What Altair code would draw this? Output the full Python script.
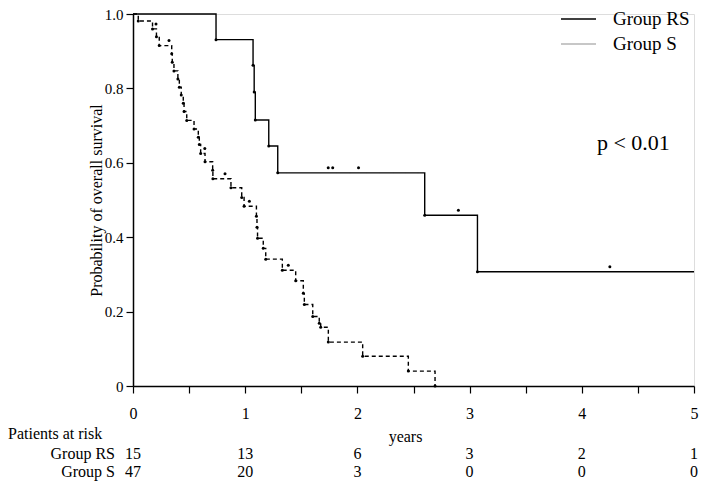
import altair as alt
import pandas as pd

# ---- Kaplan-Meier data ----
groups = ["Group RS", "Group S"]
legend_colors = ["black", "#b4b4b4"]

rs_time = [0.0, 0.74, 1.07, 1.08, 1.09, 1.21, 1.29, 2.60, 3.07, 5.0]
rs_surv = [1.0, 0.931, 0.862, 0.790, 0.715, 0.645, 0.573, 0.459, 0.307, 0.307]
rs_cens_time = [1.74, 1.78, 2.01, 2.90, 4.25]
rs_cens_surv = [0.573, 0.573, 0.573, 0.459, 0.307]

s_time = [0.0, 0.047, 0.174, 0.209, 0.234, 0.345, 0.350, 0.365, 0.400, 0.413,
          0.430, 0.448, 0.455, 0.479, 0.544, 0.582, 0.591, 0.603, 0.642, 0.710,
          0.712, 0.873, 0.969, 0.990, 1.100, 1.105, 1.110, 1.161, 1.183, 1.331,
          1.450, 1.518, 1.527, 1.602, 1.660, 1.673, 1.741, 2.047, 2.454, 2.692]
s_surv = [1.0, 0.981, 0.960, 0.939, 0.915, 0.893, 0.870, 0.847, 0.825, 0.803,
          0.782, 0.760, 0.738, 0.714, 0.691, 0.669, 0.649, 0.625, 0.603, 0.580,
          0.557, 0.533, 0.507, 0.483, 0.456, 0.427, 0.397, 0.370, 0.341, 0.311,
          0.283, 0.249, 0.219, 0.187, 0.169, 0.158, 0.118, 0.080, 0.040, 0.0]
s_cens_time = [0.205, 0.321, 0.640, 0.820, 1.037, 1.384]
s_cens_surv = [0.960, 0.915, 0.625, 0.557, 0.483, 0.311]

risk_times = [0, 1, 2, 3, 4, 5]
risk_rs = [15, 13, 6, 3, 2, 1]
risk_s = [47, 20, 3, 0, 0, 0]

p_text = "p < 0.01"
p_pos = (4.46, 0.653)

FONT = "Liberation Serif"

# ---- tables ----
lines = pd.concat([
    pd.DataFrame({"t": rs_time, "s": rs_surv, "g": groups[0]}),
    pd.DataFrame({"t": s_time, "s": s_surv, "g": groups[1]}),
])
events = pd.concat([
    pd.DataFrame({"t": rs_time[1:-1], "s": rs_surv[1:-1]}),
    pd.DataFrame({"t": s_time[1:], "s": s_surv[1:]}),
])
cens = pd.concat([
    pd.DataFrame({"t": rs_cens_time, "s": rs_cens_surv}),
    pd.DataFrame({"t": s_cens_time, "s": s_cens_surv}),
])
ptab = pd.DataFrame({"t": [p_pos[0]], "s": [p_pos[1]], "label": [p_text]})

x_scale = alt.Scale(domain=[0, 5], nice=False, zero=False)
y_scale = alt.Scale(domain=[0, 1], nice=False)

x_axis = alt.Axis(
    values=[0, 0.5, 1, 1.5, 2, 2.5, 3, 3.5, 4, 4.5, 5],
    labelExpr="datum.value % 1 == 0 ? format(datum.value, 'd') : ''",
    title="years", titleFont=FONT, titleFontSize=16, titleFontWeight="normal",
    titleColor="black", titleBaseline="middle", titleY=50, titleX=272,
    labelFont=FONT, labelFontSize=16, labelColor="black", labelPadding=12,
    tickSize=7, tickColor="black", domainColor="black", domainWidth=1.5,
    tickWidth=1.2, grid=False, labelFlush=False,
)
y_axis = alt.Axis(
    values=[0, 0.2, 0.4, 0.6, 0.8, 1.0],
    labelExpr="datum.value == 0 ? '0' : format(datum.value, '.1f')",
    title="Probability of overall survival", titleFont=FONT, titleFontSize=16,
    titleFontWeight="normal", titleColor="black", titleX=-37, titleBaseline="middle",
    labelFont=FONT, labelFontSize=15, labelColor="black", labelPadding=3,
    tickSize=7, tickColor="black", domainColor="black", domainWidth=1.5,
    tickWidth=1.2, grid=False, labelFlush=False,
)

X = alt.X("t:Q", scale=x_scale, axis=x_axis)
Y = alt.Y("s:Q", scale=y_scale, axis=y_axis)

line_layer = alt.Chart(lines).mark_line(
    interpolate="step-after", color="black", strokeWidth=1.4
).encode(
    x=X, y=Y, detail="g:N",
    strokeDash=alt.StrokeDash("g:N", scale=alt.Scale(domain=groups, range=[[1, 0], [4, 3]]), legend=None),
)

event_layer = alt.Chart(events).mark_circle(color="black", size=9, opacity=1).encode(
    x=alt.X("t:Q", scale=x_scale), y=alt.Y("s:Q", scale=y_scale)
)
cens_layer = alt.Chart(cens).mark_circle(color="black", size=9, opacity=1, yOffset=-5).encode(
    x=alt.X("t:Q", scale=x_scale), y=alt.Y("s:Q", scale=y_scale)
)

p_layer = alt.Chart(ptab).mark_text(
    font=FONT, fontSize=22, color="black", align="center", baseline="middle"
).encode(x=alt.X("t:Q", scale=x_scale), y=alt.Y("s:Q", scale=y_scale), text="label:N")

# ---- legend (top right) ----
legend_layers = []
for i, (g, c) in enumerate(zip(groups, legend_colors)):
    ly = 5 + 25 * i
    legend_layers.append(
        alt.Chart(pd.DataFrame({"g": [g]})).mark_rule(color=c, strokeWidth=1.5).encode(
            x=alt.value(428), x2=alt.value(463), y=alt.value(ly)
        )
    )
    legend_layers.append(
        alt.Chart(pd.DataFrame({"g": [g]})).mark_text(
            font=FONT, fontSize=19, color="black", align="left", baseline="middle"
        ).encode(x=alt.value(480), y=alt.value(ly), text="g:N")
    )

# ---- risk table ----
risk_layers = []
for g, counts, ry in [(groups[0], risk_rs, 440), (groups[1], risk_s, 458)]:
    df = pd.DataFrame({"t": risk_times, "n": counts})
    risk_layers.append(
        alt.Chart(df).mark_text(
            font=FONT, fontSize=16, color="black", align="center", baseline="middle"
        ).encode(x=alt.X("t:Q", scale=x_scale), y=alt.value(ry), text="n:N")
    )
    risk_layers.append(
        alt.Chart(pd.DataFrame({"label": [g]})).mark_text(
            font=FONT, fontSize=16, color="black", align="right", baseline="middle"
        ).encode(x=alt.value(-18), y=alt.value(ry), text="label:N")
    )
par_layer = alt.Chart(pd.DataFrame({"label": ["Patients at risk"]})).mark_text(
    font=FONT, fontSize=16, color="black", align="left", baseline="middle"
).encode(x=alt.value(-125), y=alt.value(420), text="label:N")

chart = alt.layer(
    line_layer, event_layer, cens_layer, p_layer,
    *legend_layers, *risk_layers, par_layer,
).properties(
    width=561, height=372,
    autosize=alt.AutoSizeParams(type="none"),
    padding={"left": 125, "top": 6, "right": 6, "bottom": 96},
).configure_view(stroke=None).configure(background="white")

chart.save("out.html", embed_options={"renderer": "svg", "actions": False})
